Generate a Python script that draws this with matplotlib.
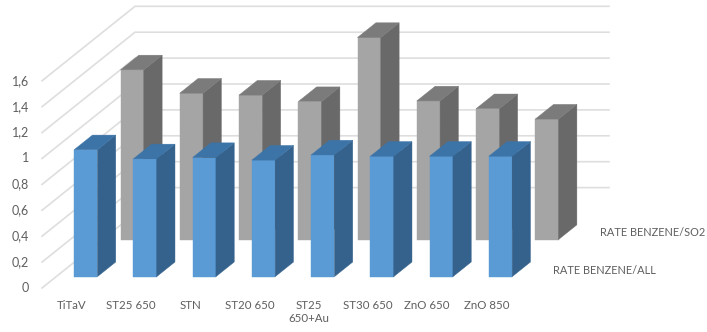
import matplotlib
matplotlib.use('Agg')
import matplotlib.pyplot as plt
from matplotlib.patches import Polygon

categories = ['TiTaV', 'ST25 650', 'STN', 'ST20 650', 'ST25\n650+Au', 'ST30 650', 'ZnO 650', 'ZnO 850']
rate_all = [0.98, 0.91, 0.92, 0.90, 0.94, 0.93, 0.93, 0.93]
rate_so2 = [1.31, 1.13, 1.115, 1.065, 1.56, 1.07, 1.01, 0.93]
yticks = [0, 0.2, 0.4, 0.6, 0.8, 1, 1.2, 1.4, 1.6]
ylabels = ['0', '0,2', '0,4', '0,6', '0,8', '1', '1,2', '1,4', '1,6']

W, H = 707, 332
X0, Y0 = 42, 288         # pixel position of the front corner of the floor
XUNIT, YUNIT = 59.25, 129.5   # pixels per category, pixels per unit of value

# oblique projection: depth 0..1 moves a point back and up the plot
DEPTH_X = 93 / XUNIT
DEPTH_Y = 74.5 / YUNIT
BAR_W = 0.393
BAR_D = 0.197
TXT = '#5f5f5f'
GRID = '#dedede'

plt.rcParams['font.family'] = ['Lato', 'DejaVu Sans']

fig = plt.figure(figsize=(W / 100, H / 100), dpi=100)
ax = fig.add_axes([0, 0, 1, 1])
ax.set_xlim(-X0 / XUNIT, (W - X0) / XUNIT)
ax.set_ylim(-(H - Y0) / YUNIT, Y0 / YUNIT)
ax.axis('off')


def proj(x, val, depth):
    return x + depth * DEPTH_X, val + depth * DEPTH_Y


def bar3d(i, val, d0, front, top, side, z):
    x0 = i + 0.5 - BAR_W / 2
    x1 = x0 + BAR_W
    d1 = d0 + BAR_D
    faces = [
        ([proj(x0, 0, d0), proj(x1, 0, d0), proj(x1, val, d0), proj(x0, val, d0)], front),
        ([proj(x1, 0, d0), proj(x1, 0, d1), proj(x1, val, d1), proj(x1, val, d0)], side),
        ([proj(x0, val, d0), proj(x1, val, d0), proj(x1, val, d1), proj(x0, val, d1)], top),
    ]
    for pts, col in faces:
        ax.add_patch(Polygon(pts, closed=True, fc=col, ec=col, lw=0.3, zorder=z))


# walls
n = len(categories)
for t, lab in zip(yticks, ylabels):
    if t == 0:
        # floor edge only, no line along the back wall
        pts = [proj(0, t, 0), proj(0, t, 1)]
    else:
        pts = [proj(0, t, 0), proj(0, t, 1), proj(n, t, 1)]
    xs, ys = zip(*pts)
    ax.plot(xs, ys, color=GRID, lw=1.2, zorder=1)
    ax.text(-13 / XUNIT, t, lab, ha='right', va='center', fontsize=9, color=TXT)

for i, v in enumerate(rate_so2):
    bar3d(i, v, 0.651, '#a5a5a5', '#7b7b7b', '#696969', 2)
for i, v in enumerate(rate_all):
    bar3d(i, v, 0.152, '#5b9bd5', '#3c74a8', '#35628c', 3)

for i, c in enumerate(categories):
    ax.text(i + 0.5, -12 / YUNIT, c, ha='center', va='top', fontsize=8.3, color=TXT, linespacing=1.25)

ax.text((599.7 - X0) / XUNIT, (Y0 - 233) / YUNIT, 'RATE BENZENE/SO2', ha='left', va='center',
        fontsize=7.9, color=TXT)
ax.text((553.3 - X0) / XUNIT, (Y0 - 270) / YUNIT, 'RATE BENZENE/ALL', ha='left', va='center',
        fontsize=7.9, color=TXT)

fig.savefig('out.png', dpi=100)
